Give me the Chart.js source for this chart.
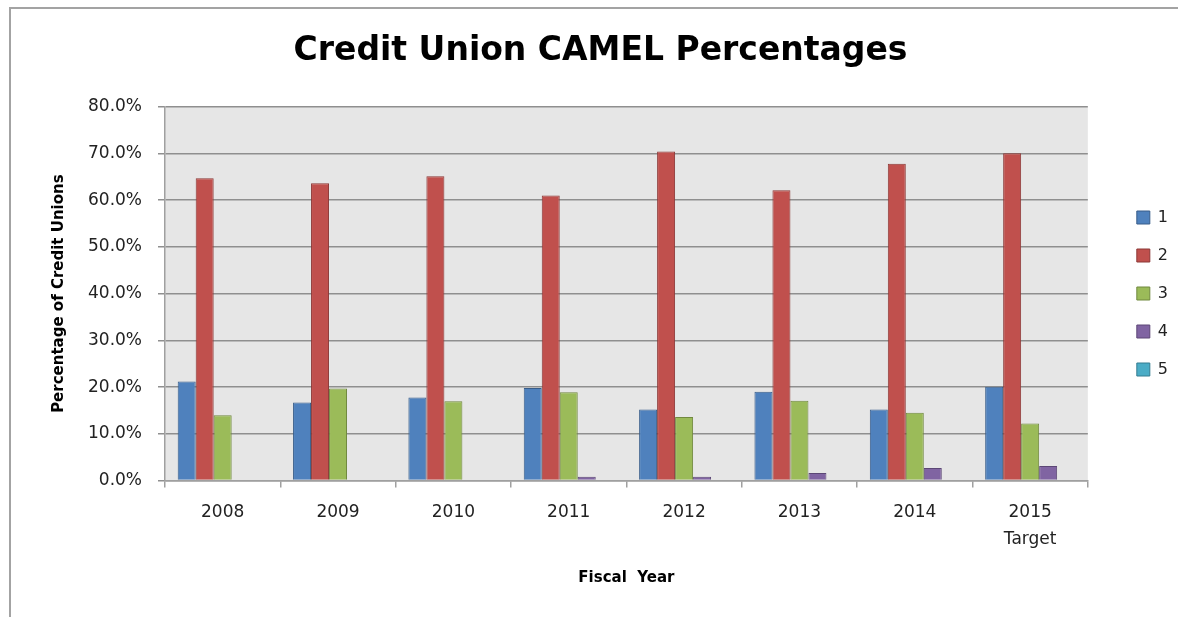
<!DOCTYPE html>
<html>
<head>
<meta charset="utf-8">
<style>
  html, body {
    margin: 0;
    padding: 0;
    background: #fff;
    overflow: hidden;
  }

  .frame {
    position: absolute;
    left: 9px;
    top: 7px;
    width: 1200px;
    height: 640px;
    border: 2px solid #a3a3a3;
    pointer-events: none;
  }

  .chart-wrap {
    position: absolute;
    left: 0;
    top: 0;
    width: 1178px;
    height: 617px;
  }
</style>
<script src="https://cdn.jsdelivr.net/npm/chart.js@4"></script>
</head>
<body>
<div class="chart-wrap"><canvas id="camelChart" width="1178" height="617"></canvas></div>
<div class="frame"></div>

<script>
  // fiscal years (last one is a two-line label)
  const years = ['2008', '2009', '2010', '2011', '2012', '2013', '2014', ['2015', 'Target']];

  // percentage of credit unions in each CAMEL rating
  const rating1 = [21.2, 16.7, 17.8, 19.8, 15.2, 19.0, 15.2, 20.1];
  const rating2 = [64.7, 63.6, 65.1, 61.0, 70.4, 62.1, 67.8, 70.0];
  const rating3 = [14.0, 19.7, 17.0, 18.9, 13.6, 17.1, 14.5, 12.2];
  const rating4 = [0, 0, 0, 0.8, 0.8, 1.6, 2.7, 3.1];
  const rating5 = [0, 0, 0, 0, 0, 0, 0, 0];

  const yTicks = [0, 10, 20, 30, 40, 50, 60, 70, 80];

  const plotBg = {
    id: 'plotBg',
    beforeDraw(chart) {
      const { ctx, chartArea: a } = chart;
      ctx.save();
      ctx.fillStyle = '#e6e6e6';
      ctx.fillRect(a.left, a.top, a.right - a.left, a.bottom - a.top);
      ctx.restore();
    }
  };

  // legend sits further right than chart.js would put it
  const legendShift = {
    id: 'legendShift',
    afterLayout(chart) {
      chart.legend.left += 27;
      chart.legend.right += 27;
    }
  };

  const ctx = document.getElementById('camelChart').getContext('2d');
  new Chart(ctx, {
    type: 'bar',
    data: {
      labels: years,
      datasets: [
        { label: '1', data: rating1, backgroundColor: '#4f81bd', borderColor: '#385d8a' },
        { label: '2', data: rating2, backgroundColor: '#c0504d', borderColor: '#8c3836' },
        { label: '3', data: rating3, backgroundColor: '#9bbb59', borderColor: '#71893f' },
        { label: '4', data: rating4, backgroundColor: '#8064a2', borderColor: '#5c4776' },
        { label: '5', data: rating5, backgroundColor: '#4bacc6', borderColor: '#357d91' }
      ]
    },
    options: {
      responsive: false,
      animation: false,
      datasets: {
        bar: {
          borderWidth: 1,
          categoryPercentage: 0.78,
          barPercentage: 1.0
        }
      },
      layout: {
        padding: { left: 50, right: 27, top: 0, bottom: 30 }
      },
      plugins: {
        title: {
          display: true,
          text: 'Credit Union CAMEL Percentages',
          color: '#000',
          font: { family: 'DejaVu Sans', size: 33, weight: 'bold' },
          padding: { top: 32, bottom: 35 }
        },
        legend: {
          position: 'right',
          align: 'center',
          labels: {
            color: '#222',
            boxWidth: 13,
            boxHeight: 13,
            padding: 22,
            font: { family: 'DejaVu Sans', size: 16 }
          }
        },
        tooltip: { enabled: false }
      },
      scales: {
        x: {
          grid: {
            offset: true,
            drawOnChartArea: false,
            drawTicks: true,
            tickLength: 7,
            color: '#a0a0a0',
            lineWidth: 1.5
          },
          border: { color: '#a0a0a0', width: 1.5 },
          ticks: {
            color: '#222',
            padding: 11,
            maxRotation: 0,
            font: { family: 'DejaVu Sans', size: 17, lineHeight: 1.6 }
          },
          title: {
            display: true,
            text: 'Fiscal  Year',
            color: '#000',
            font: { family: 'DejaVu Sans', size: 15, weight: 'bold' },
            padding: { top: 5, bottom: 0 }
          }
        },
        y: {
          min: 0,
          max: 80,
          afterBuildTicks(axis) {
            axis.ticks = yTicks.map(v => ({ value: v }));
          },
          grid: {
            color: '#8f8f8f',
            lineWidth: 1.5,
            tickLength: 7
          },
          border: { color: '#a0a0a0', width: 1.5 },
          ticks: {
            color: '#222',
            padding: 16,
            font: { family: 'DejaVu Sans', size: 17 },
            callback: v => v.toFixed(1) + '%'
          },
          title: {
            display: true,
            text: 'Percentage of Credit Unions',
            color: '#000',
            font: { family: 'DejaVu Sans', size: 15, weight: 'bold' },
            padding: { top: 0, bottom: 4 }
          }
        }
      }
    },
    plugins: [plotBg, legendShift]
  });
</script>
</body>
</html>
